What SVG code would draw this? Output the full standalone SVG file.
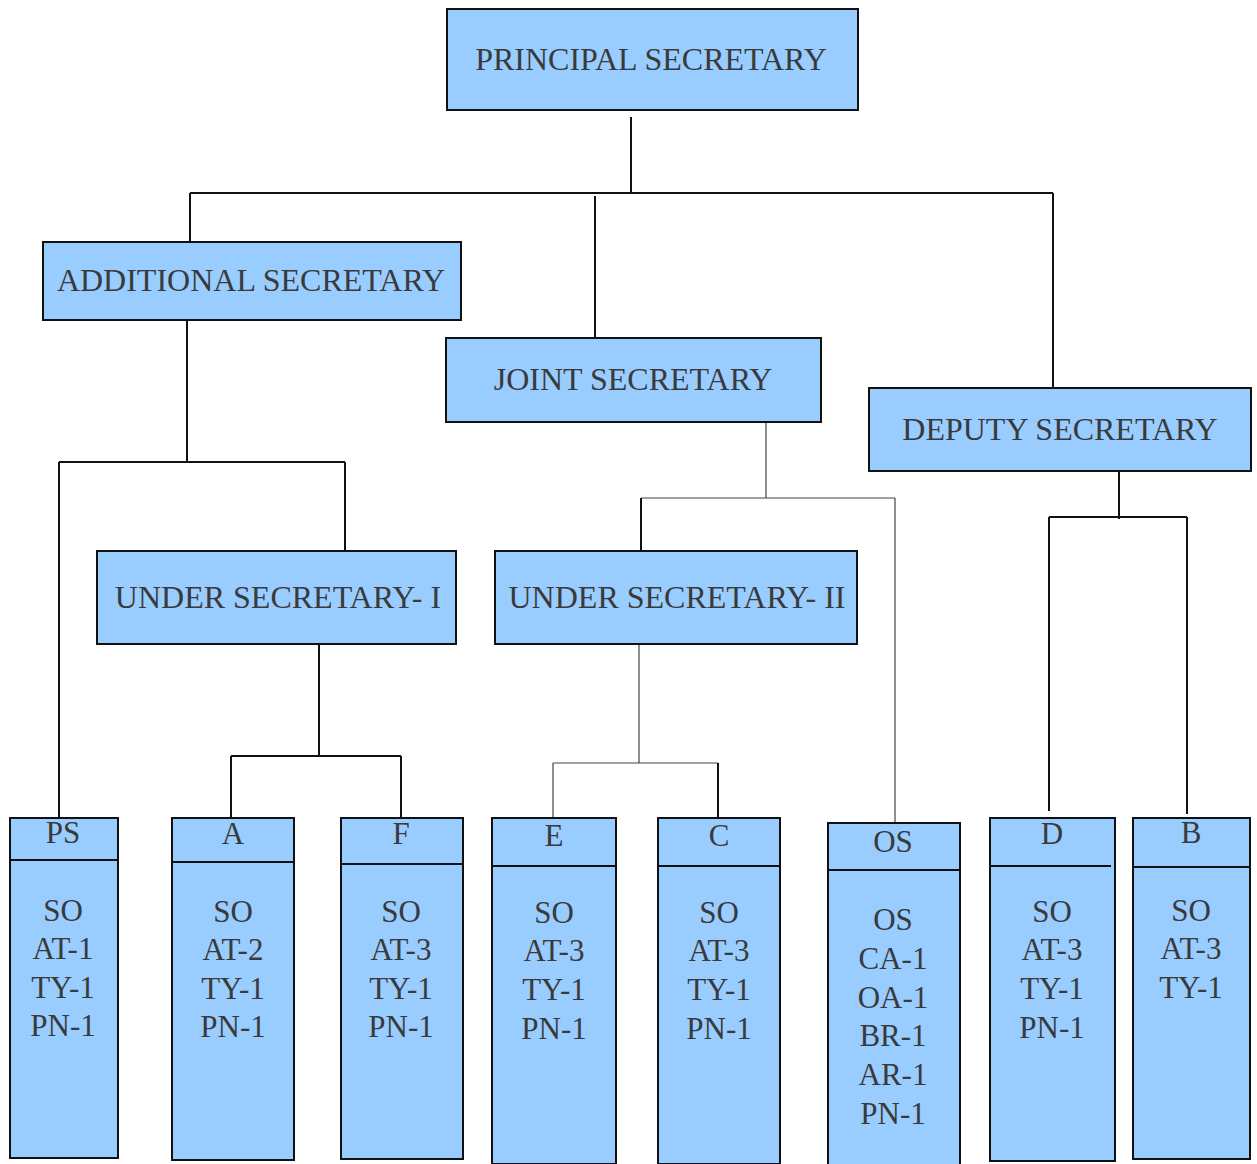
<svg xmlns="http://www.w3.org/2000/svg" width="1257" height="1164" viewBox="0 0 1257 1164">
<style>
.box{fill:#99ccff;stroke:#111;stroke-width:2}
.t{font-family:"Liberation Serif","Times New Roman",serif;font-size:32px;fill:#3a3a3a;text-anchor:middle}
.s{font-family:"Liberation Serif","Times New Roman",serif;font-size:31px;fill:#3a3a3a;text-anchor:middle}
.c{fill:none;stroke:#111;stroke-width:2}
.thin{fill:none;stroke:#444;stroke-width:1.2}
.div{stroke:#111;stroke-width:2}
</style>
<rect width="1257" height="1164" fill="#fff"/>
<g id="connectors">
<path class="c" d="M631 117V193M190 193H1053M190 193V242M595 196V338M1053 193V387"/>
<path class="c" d="M187 317V462M59 462H345M59 462V818M345 462V551"/>
<path class="thin" d="M766 422V498M641 498H895M895 498V822"/>
<path class="c" d="M641 498V551"/>
<path class="c" d="M1119 471V519M1049 517H1187M1049 517V811M1187 517V814"/>
<path class="c" d="M319 644V756M231 756H401M231 756V818M401 756V818"/>
<path class="thin" d="M639 644V763M553 763H718M553 763V818"/>
<path class="c" d="M718 763V818"/>
</g>
<g id="principal"><rect class="box" x="447" y="9" width="411" height="101"/><text class="t" x="651" y="70">PRINCIPAL SECRETARY</text></g>
<g id="additional"><rect class="box" x="43" y="242" width="418" height="78"/><text class="t" x="251" y="291">ADDITIONAL SECRETARY</text></g>
<g id="joint"><rect class="box" x="446" y="338" width="375" height="84"/><text class="t" x="633" y="390">JOINT SECRETARY</text></g>
<g id="deputy"><rect class="box" x="869" y="388" width="382" height="83"/><text class="t" x="1060" y="440">DEPUTY SECRETARY</text></g>
<g id="us1"><rect class="box" x="97" y="551" width="359" height="93"/><text class="t" x="278" y="608">UNDER SECRETARY- I</text></g>
<g id="us2"><rect class="box" x="495" y="551" width="362" height="93"/><text class="t" x="677" y="608">UNDER SECRETARY- II</text></g>
<g id="ps"><rect class="box" x="10" y="818" width="108" height="340"/><line class="div" x1="10" y1="860" x2="118" y2="860"/>
<text class="s" x="63" y="843">PS</text><text class="s" x="63" y="921">SO</text><text class="s" x="63" y="959">AT-1</text><text class="s" x="63" y="998">TY-1</text><text class="s" x="63" y="1036">PN-1</text></g>
<g id="a"><rect class="box" x="172" y="818" width="122" height="342"/><line class="div" x1="172" y1="862" x2="294" y2="862"/>
<text class="s" x="233" y="844">A</text><text class="s" x="233" y="922">SO</text><text class="s" x="233" y="960">AT-2</text><text class="s" x="233" y="999">TY-1</text><text class="s" x="233" y="1037">PN-1</text></g>
<g id="f"><rect class="box" x="341" y="818" width="122" height="341"/><line class="div" x1="341" y1="864" x2="463" y2="864"/>
<text class="s" x="401" y="844">F</text><text class="s" x="401" y="922">SO</text><text class="s" x="401" y="960">AT-3</text><text class="s" x="401" y="999">TY-1</text><text class="s" x="401" y="1037">PN-1</text></g>
<g id="e"><rect class="box" x="492" y="818" width="124" height="346"/><line class="div" x1="492" y1="866" x2="616" y2="866"/>
<text class="s" x="554" y="846">E</text><text class="s" x="554" y="923">SO</text><text class="s" x="554" y="961">AT-3</text><text class="s" x="554" y="1000">TY-1</text><text class="s" x="554" y="1039">PN-1</text></g>
<g id="c"><rect class="box" x="658" y="818" width="122" height="346"/><line class="div" x1="658" y1="866" x2="780" y2="866"/>
<text class="s" x="719" y="846">C</text><text class="s" x="719" y="923">SO</text><text class="s" x="719" y="961">AT-3</text><text class="s" x="719" y="1000">TY-1</text><text class="s" x="719" y="1039">PN-1</text></g>
<g id="os"><rect class="box" x="828" y="823" width="132" height="345"/><line class="div" x1="828" y1="870" x2="960" y2="870"/>
<text class="s" x="893" y="852">OS</text><text class="s" x="893" y="930">OS</text><text class="s" x="893" y="969">CA-1</text><text class="s" x="893" y="1008">OA-1</text><text class="s" x="893" y="1046">BR-1</text><text class="s" x="893" y="1085">AR-1</text><text class="s" x="893" y="1124">PN-1</text></g>
<g id="d"><rect class="box" x="990" y="818" width="125" height="343"/><line class="div" x1="990" y1="866" x2="1111" y2="866"/>
<text class="s" x="1052" y="844">D</text><text class="s" x="1052" y="922">SO</text><text class="s" x="1052" y="960">AT-3</text><text class="s" x="1052" y="999">TY-1</text><text class="s" x="1052" y="1038">PN-1</text></g>
<g id="b"><rect class="box" x="1133" y="818" width="117" height="341"/><line class="div" x1="1133" y1="867" x2="1250" y2="867"/>
<text class="s" x="1191" y="843">B</text><text class="s" x="1191" y="921">SO</text><text class="s" x="1191" y="959">AT-3</text><text class="s" x="1191" y="998">TY-1</text></g>
</svg>
